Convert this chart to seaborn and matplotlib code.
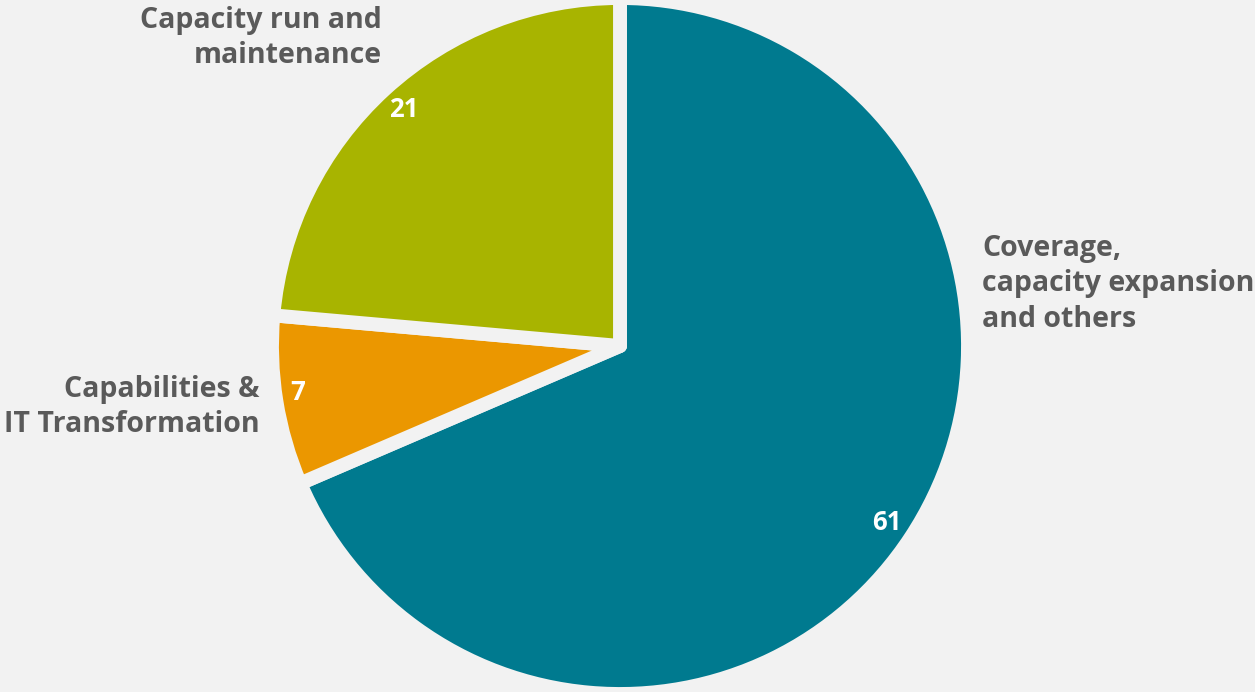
import matplotlib.pyplot as plt
import seaborn as sns

# Data
categories = ['Coverage,\ncapacity expansion\nand others',
              'Capabilities &\nIT Transformation',
              'Capacity run and\nmaintenance']
values = [61, 7, 21]
colors = ['#007a8f', '#eb9700', '#a8b400']

bg = '#f2f2f2'
sns.set_theme(style='white', rc={'figure.facecolor': bg, 'axes.facecolor': bg})
plt.rcParams['font.family'] = ['Open Sans', 'DejaVu Sans']

fig = plt.figure(figsize=(12.55, 6.92), dpi=100)
ax = fig.add_axes([0, 0, 1, 1])

wedges, _, autotexts = ax.pie(
    values, colors=colors, startangle=90, counterclock=False,
    center=(620, 346), radius=348, frame=True,
    autopct=lambda p: f'{p * sum(values) / 100:.0f}', pctdistance=0.92,
    wedgeprops={'edgecolor': bg, 'linewidth': 10, 'joinstyle': 'round'},
    textprops={'color': 'white', 'fontsize': 18.5, 'fontweight': 'bold'})
ax.set_xlim(0, 1255)
ax.set_ylim(0, 692)
ax.set_aspect('equal')
ax.axis('off')
autotexts[1].set_position((298, 692 - 393))

label_style = dict(color='#5a5a5a', fontsize=20.5, fontweight='bold',
                   linespacing=1.3, va='center')
ax.text(982, 692 - 284, categories[0], ha='left', **label_style)
ax.text(260, 692 - 407, categories[1], ha='right', multialignment='right', **label_style)
ax.text(382, 692 - 38, categories[2], ha='right', multialignment='right', **label_style)

fig.savefig('out.png', dpi=100, facecolor=bg)
